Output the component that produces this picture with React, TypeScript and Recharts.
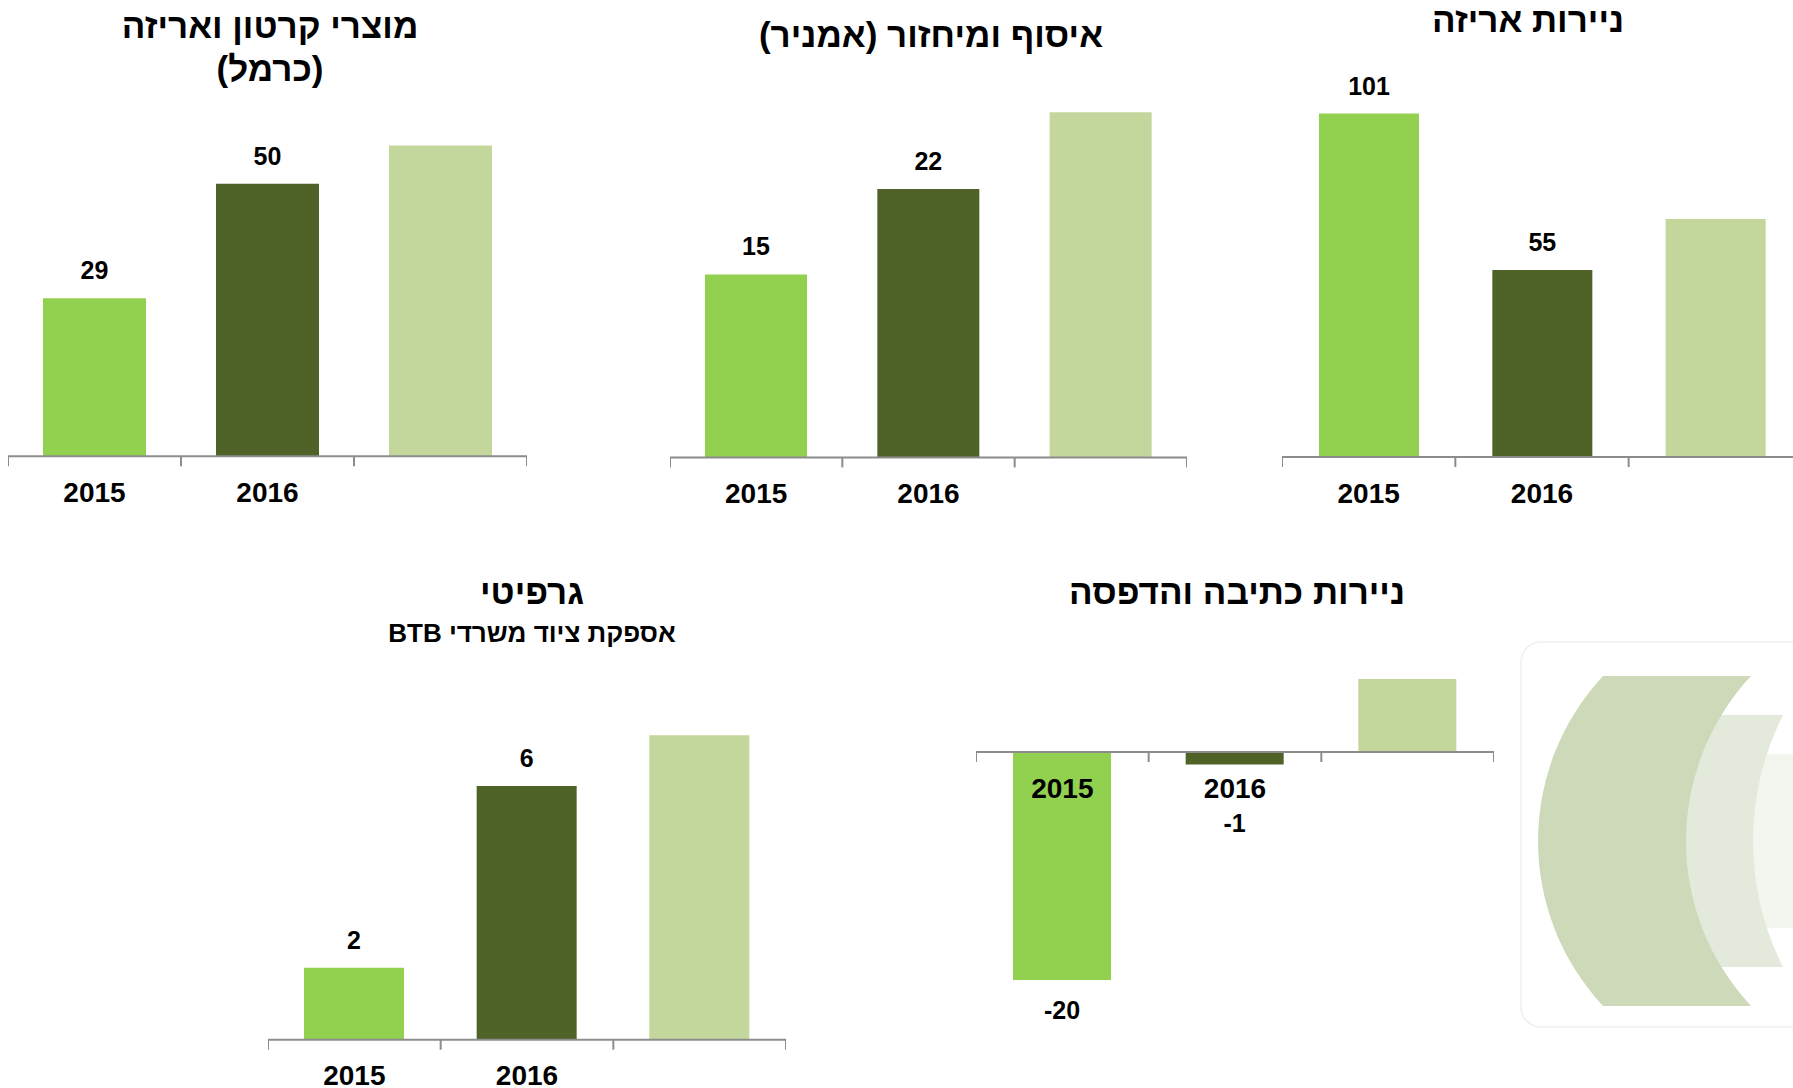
import React from "react";
import { BarChart, Bar, XAxis, YAxis, Cell, LabelList, ReferenceLine } from "recharts";

const YEARS = ["2015", "2016", ""];
const BAR_COLORS = ["#92d050", "#4f6228", "#c3d69b"];
const LABELED = 2; // only the first two bars carry a value label

const cartonValues = [29, 50, 57];
const recyclingValues = [15, 22, 28.3];
const packagingPaperValues = [101, 55, 70];
const graffitiValues = [1.7, 6, 7.2];
const printingPaperValues = [-20, -1.1, 6.4];

const FONT = "'Liberation Sans', Arial, sans-serif";
const AXIS_GRAY = "#8c8c8c";
const AXIS_H = 60;

function YearTick(props: any) {
  const { x, y, payload, index, shift, band, count } = props;
  const zy = y - shift;
  return (
    <g>
      <line x1={x - band / 2} x2={x - band / 2} y1={zy} y2={zy + 10} stroke={AXIS_GRAY} strokeWidth={2} />
      {index === count - 1 && (
        <line x1={x + band / 2} x2={x + band / 2} y1={zy} y2={zy + 10} stroke={AXIS_GRAY} strokeWidth={2} />
      )}
      <text
        x={x}
        y={zy + 36}
        textAnchor="middle"
        dominantBaseline="central"
        fontSize={28}
        fontWeight="bold"
        fontFamily={FONT}
        fill="#000"
      >
        {payload.value}
      </text>
    </g>
  );
}

function ValueLabel(props: any) {
  const { x, y, width, height, value } = props;
  if (value === null || value === undefined) return null;
  const top = Math.min(y, y + height);
  const bottom = Math.max(y, y + height);
  const ty = value >= 0 ? top - 28 : Math.max(bottom + 30, top + 71);
  return (
    <text
      x={x + width / 2}
      y={ty}
      textAnchor="middle"
      dominantBaseline="central"
      fontSize={25}
      fontWeight="bold"
      fontFamily={FONT}
      fill="#000"
    >
      {Math.round(value)}
    </text>
  );
}

interface MiniProps {
  values: number[];
  domain: [number, number];
  left: number;
  zeroY: number;
  width: number;
  ppu: number;
  barSize: number;
}

function MiniBarChart({ values, domain, left, zeroY, width, ppu, barSize }: MiniProps) {
  const [lo, hi] = domain;
  const plotH = (hi - lo) * ppu;
  const top = zeroY - hi * ppu;
  const shift = -lo * ppu;
  const band = width / values.length;
  const data = YEARS.map((year, i) => ({
    year,
    value: values[i],
    label: i < LABELED ? values[i] : null,
  }));

  return (
    <div style={{ position: "absolute", left, top, width, height: plotH + AXIS_H }}>
      <BarChart
        width={width}
        height={plotH + AXIS_H}
        data={data}
        margin={{ top: 0, right: 0, bottom: 0, left: 0 }}
        barSize={barSize}
      >
        <XAxis
          dataKey="year"
          height={AXIS_H}
          axisLine={false}
          tickLine={false}
          tickSize={0}
          tickMargin={0}
          interval={0}
          tick={(p: any) => <YearTick {...p} shift={shift} band={band} count={values.length} />}
        />
        <YAxis hide type="number" domain={domain} allowDataOverflow />
        <Bar dataKey="value" isAnimationActive={false}>
          {data.map((_, i) => (
            <Cell key={i} fill={BAR_COLORS[i]} />
          ))}
          <LabelList dataKey="label" content={ValueLabel} />
        </Bar>
        <ReferenceLine y={0} stroke={AXIS_GRAY} strokeWidth={2} />
      </BarChart>
    </div>
  );
}

const titleStyle: React.CSSProperties = {
  position: "absolute",
  direction: "rtl",
  textAlign: "center",
  fontWeight: "bold",
  fontSize: 35,
  lineHeight: "43px",
  color: "#000",
  whiteSpace: "nowrap",
};

function Title({ cx, top, width = 500, children, style }: any) {
  return (
    <div dir="rtl" style={{ ...titleStyle, left: cx - width / 2, top, width, ...style }}>
      {children}
    </div>
  );
}

function Logo() {
  const c1 = "M 1603 676 L 1751 676 A 242 242 0 0 0 1751 1006 L 1603 1006 A 242 242 0 0 1 1603 676 Z";
  const c2 = "M 1660 715 L 1783 715 A 280 280 0 0 0 1783 967 L 1660 967 Z";
  const c3 = "M 1740 754 L 1800 754 L 1800 928 L 1740 928 Z";
  const shapes = (
    <>
      <path d={c3} fill="#f3f6ee" />
      <path d={c2} fill="#e3eadb" />
      <path d={c1} fill="#cdd9b9" />
    </>
  );
  return (
    <svg width={1793} height={1088} style={{ position: "absolute", left: 0, top: 0 }}>
      <defs>
        <clipPath id="refl">
          <rect x={1500} y={1030} width={300} height={60} />
        </clipPath>
      </defs>
      <rect x={1521} y={642} width={320} height={385} rx={20} fill="#fff" stroke="#efefef" strokeWidth={1.5} />
      {shapes}
      <g clipPath="url(#refl)" opacity={0.22} transform="translate(0 2058) scale(1 -1)">
        <rect x={1521} y={642} width={320} height={385} rx={20} fill="#fff" stroke="#d8d8d8" strokeWidth={1.5} />
        {shapes}
      </g>
    </svg>
  );
}

export default function App() {
  return (
    <div
      style={{
        position: "absolute",
        left: 0,
        top: 0,
        width: 1793,
        height: 1088,
        overflow: "hidden",
        background: "#fff",
        fontFamily: FONT,
      }}
    >
      <Logo />

      <Title cx={270} top={4}>
        <div>מוצרי קרטון ואריזה</div>
        <div>(כרמל)</div>
      </Title>
      <MiniBarChart values={cartonValues} domain={[0, 65]} left={8} zeroY={456} width={519} ppu={5.45} barSize={103} />

      <Title cx={931} top={13}>
        איסוף ומיחזור (אמניר)
      </Title>
      <MiniBarChart values={recyclingValues} domain={[0, 32]} left={670} zeroY={457} width={517} ppu={12.2} barSize={102} />

      <Title cx={1528} top={-2}>
        ניירות אריזה
      </Title>
      <MiniBarChart values={packagingPaperValues} domain={[0, 120]} left={1282} zeroY={457} width={520} ppu={3.4} barSize={100} />

      <Title cx={532} top={570}>
        גרפיטי
      </Title>
      <Title cx={532} top={612} style={{ fontSize: 26 }}>
        אספקת ציוד משרדי BTB
      </Title>
      <MiniBarChart values={graffitiValues} domain={[0, 9]} left={268} zeroY={1040} width={518} ppu={42.3} barSize={100} />

      <Title cx={1237} top={570}>
        ניירות כתיבה והדפסה
      </Title>
      <MiniBarChart values={printingPaperValues} domain={[-25, 10]} left={976} zeroY={752} width={518} ppu={11.4} barSize={98} />
    </div>
  );
}
